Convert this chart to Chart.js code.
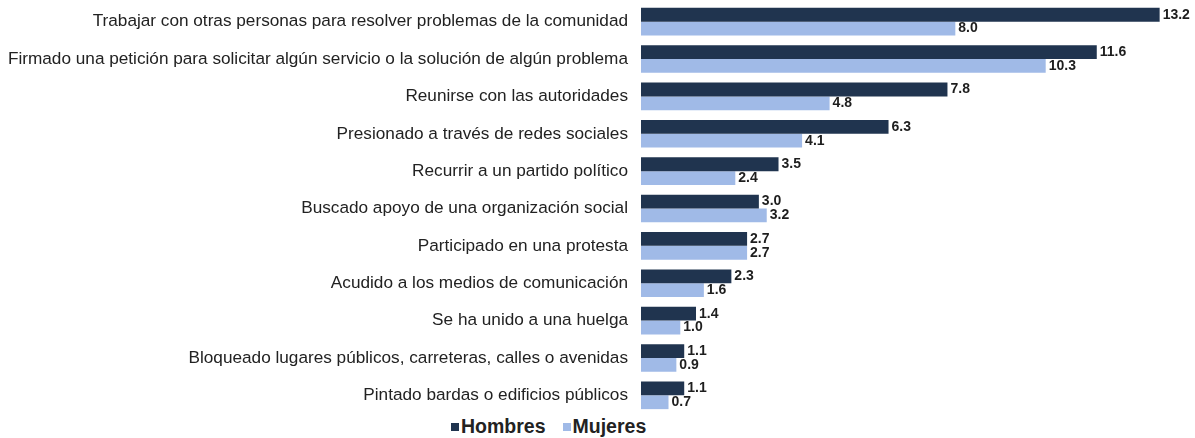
<!DOCTYPE html>
<html>
<head>
<meta charset="utf-8">
<script src="https://cdn.jsdelivr.net/npm/chart.js@4"></script>
<style>
  body { margin: 0; background: #fff; width: 1195px; height: 438px; overflow: hidden; font-family: "Liberation Sans", Arial, sans-serif; }
  #wrap { position: relative; width: 1195px; height: 415px; }
  #legend { position: absolute; top: 415px; left: 451px; display: flex; align-items: center; font-weight: bold; font-size: 19.5px; color: #222; }
  #legend span.box { display: inline-block; width: 8px; height: 8px; margin-right: 2px; }
  #legend .item { display: flex; align-items: center; margin-right: 17px; }
</style>
</head>
<body>
<div id="wrap"><canvas id="chart"></canvas></div>
<div id="legend"></div>
<script>
const categories = [
  'Trabajar con otras personas para resolver problemas de la comunidad',
  'Firmado una petición para solicitar algún servicio o la solución de algún problema',
  'Reunirse con las autoridades',
  'Presionado a través de redes sociales',
  'Recurrir a un partido político',
  'Buscado apoyo de una organización social',
  'Participado en una protesta',
  'Acudido a los medios de comunicación',
  'Se ha unido a una huelga',
  'Bloqueado lugares públicos, carreteras, calles o avenidas',
  'Pintado bardas o edificios públicos'
];
const hombres = [13.2, 11.6, 7.8, 6.3, 3.5, 3.0, 2.7, 2.3, 1.4, 1.1, 1.1];
const mujeres = [8.0, 10.3, 4.8, 4.1, 2.4, 3.2, 2.7, 1.6, 1.0, 0.9, 0.7];
const seriesNames = ['Hombres', 'Mujeres'];
const seriesColors = ['#20344f', '#a0bae7'];

// etiquetas de valor al final de cada barra
const valueLabels = {
  id: 'valueLabels',
  afterDatasetsDraw(chart) {
    const { ctx } = chart;
    ctx.save();
    ctx.font = 'bold 14px "Liberation Sans", Arial, sans-serif';
    ctx.fillStyle = '#1e1e1e';
    ctx.textBaseline = 'middle';
    chart.data.datasets.forEach((ds, di) => {
      chart.getDatasetMeta(di).data.forEach((bar, i) => {
        ctx.fillText(ds.data[i].toFixed(1), bar.x + 3, bar.y);
      });
    });
    ctx.restore();
  }
};

new Chart(document.getElementById('chart'), {
  type: 'bar',
  data: {
    labels: categories,
    datasets: [
      { label: seriesNames[0], data: hombres, backgroundColor: seriesColors[0] },
      { label: seriesNames[1], data: mujeres, backgroundColor: seriesColors[1] }
    ]
  },
  options: {
    indexAxis: 'y',
    responsive: true,
    maintainAspectRatio: false,
    animation: false,
    layout: { padding: { top: 3, bottom: 1, right: 0, left: 0 } },
    datasets: { bar: { categoryPercentage: 0.74, barPercentage: 1.0 } },
    scales: {
      x: { display: false, min: 0, max: 14.1 },
      y: {
        grid: { display: false, drawTicks: false },
        border: { display: false },
        ticks: {
          color: '#222',
          padding: 13,
          font: { family: '"Liberation Sans", Arial, sans-serif', size: 17.2 }
        },
        afterFit(scale) {
          scale.width = 641;
          scale.paddingTop = 0;
          scale.paddingBottom = 0;
        }
      }
    },
    plugins: {
      legend: { display: false },
      tooltip: { enabled: false }
    }
  },
  plugins: [valueLabels]
});

const legend = document.getElementById('legend');
seriesNames.forEach((name, i) => {
  const item = document.createElement('div');
  item.className = 'item';
  item.innerHTML = '<span class="box" style="background:' + seriesColors[i] + '"></span>' + name;
  legend.appendChild(item);
});
</script>
</body>
</html>
